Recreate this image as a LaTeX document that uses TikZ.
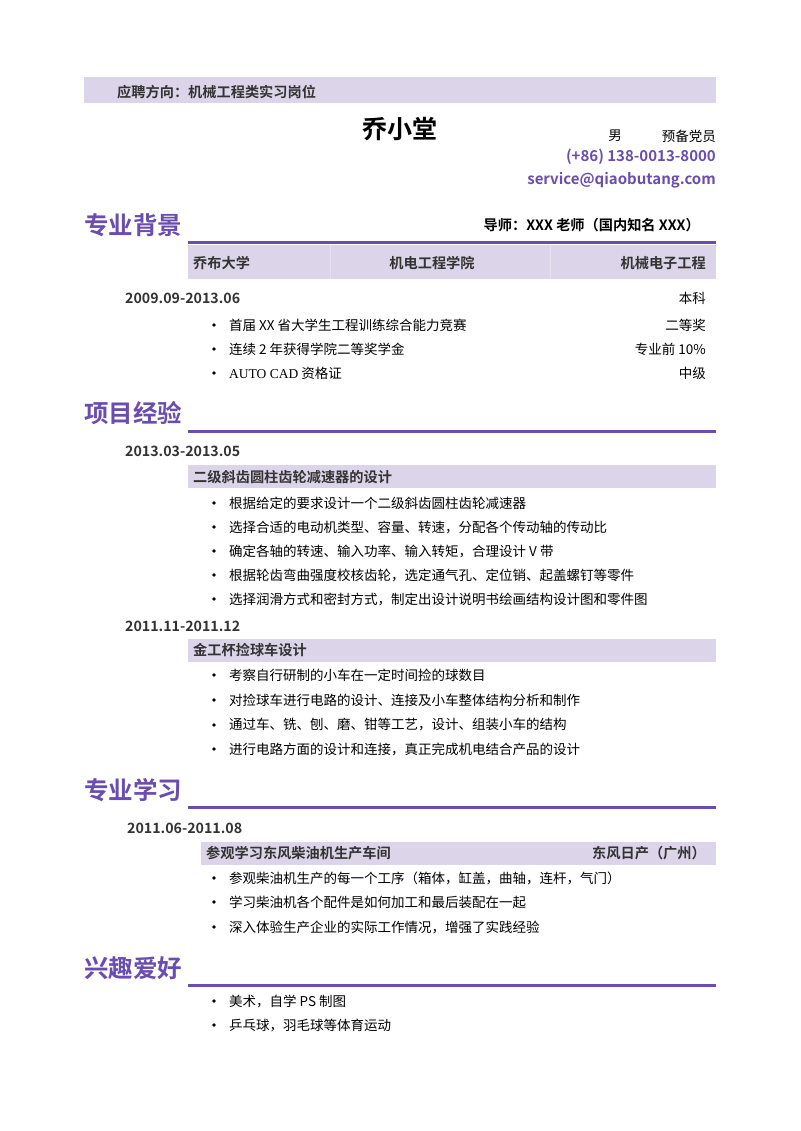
\documentclass[tikz,border=0pt]{standalone}
\usepackage{fontspec}
\setmainfont{Noto Sans CJK SC}
\newfontfamily\cjkb{Noto Sans CJK SC Bold}
\newfontfamily\tms{Liberation Serif}
\definecolor{pur}{HTML}{6A4DAE}
\definecolor{lav}{HTML}{DCD5EA}
\definecolor{dg}{HTML}{333333}
\begin{document}
\begin{tikzpicture}[x=1pt,y=-1pt,
  txt/.style={inner sep=0pt,font=\fontsize{13.5}{13.5}\selectfont,text=black},
  bold/.style={txt,font=\fontsize{14.2}{14.2}\selectfont\cjkb},
  date/.style={bold,text=dg,anchor=west},
  head/.style={inner sep=0pt,anchor=west,text=pur,font=\fontsize{24.5}{24.5}\selectfont\cjkb},
  rule/.style={draw=pur,line width=3pt},
  bar/.style={fill=lav},
  item/.style={txt,anchor=west},
  right/.style={txt,anchor=east},
  dot/.style={circle,fill=black,inner sep=0pt,minimum size=3.6pt}]
\useasboundingbox (0,0) rectangle (800,1131);
\fill[white] (0,0) rectangle (800,1131);
% top
\fill[bar] (84,77) rectangle (716,103);
\node[bold,anchor=west,text=dg] (job) at (117,92) {应聘方向：机械工程类实习岗位};
\node[inner sep=0pt,font=\fontsize{25}{25}\selectfont\cjkb] (name) at (400,129) {乔小堂};
\node[txt] (sex) at (615,136) {男};
\node[right] (party) at (716,136) {预备党员};
\node[bold,anchor=east,text=pur,font=\fontsize{15}{15}\selectfont\cjkb] (tel) at (716,157) {(+86)\ 138-0013-8000};
\node[bold,anchor=east,text=pur,font=\fontsize{15}{15}\selectfont\cjkb] (mail) at (716,180) {service@qiaobutang.com};
% section 1
\node[head] (h1) at (84,225) {专业背景};
\node[bold,anchor=east] (tutor) at (700,225) {导师：XXX 老师（国内知名 XXX）};
\fill[bar] (188,245) rectangle (716,279);
\draw[lav!70!white,line width=0.5pt] (330,245) -- (330,279) (550,245) -- (550,279);
\draw[rule] (188,243) -- (716,243);
\node[bold,anchor=west,text=dg] (u1) at (193,263) {乔布大学};
\node[bold,text=dg] (u2) at (432,263) {机电工程学院};
\node[bold,anchor=east,text=dg] (u3) at (706,263) {机械电子工程};
\node[date] (d1) at (125,298) {2009.09-2013.06};
\node[right] (r0) at (706,298) {本科};
\foreach \y/\t/\r in {325/首届 XX 省大学生工程训练综合能力竞赛/二等奖,349/连续 2 年获得学院二等奖学金/专业前 10\%}{
  \node[dot] at (214,\y) {};
  \node[item] at (229,\y) {\t};
  \node[right] at (706,\y) {\r};}
\node[dot] at (214,373) {};
\node[item] at (229,373) {{\tms AUTO CAD} 资格证};
\node[right] at (706,373) {中级};
% section 2
\node[head] (h2) at (84,413) {项目经验};
\draw[rule] (188,431) -- (716,431);
\node[date] (d2) at (125,451) {2013.03-2013.05};
\fill[bar] (188,465) rectangle (716,488);
\node[bold,anchor=west,text=dg] (p1) at (193,477) {二级斜齿圆柱齿轮减速器的设计};
\foreach \y/\t in {503/根据给定的要求设计一个二级斜齿圆柱齿轮减速器,527/选择合适的电动机类型、容量、转速，分配各个传动轴的传动比,551/确定各轴的转速、输入功率、输入转矩，合理设计 V 带,575/根据轮齿弯曲强度校核齿轮，选定通气孔、定位销、起盖螺钉等零件,599/选择润滑方式和密封方式，制定出设计说明书绘画结构设计图和零件图}{
  \node[dot] at (214,\y) {};
  \node[item] at (229,\y) {\t};}
\node[date] (d3) at (125,626) {2011.11-2011.12};
\fill[bar] (188,639) rectangle (716,662);
\node[bold,anchor=west,text=dg] (p2) at (193,650) {金工杯捡球车设计};
\foreach \y/\t in {675/考察自行研制的小车在一定时间捡的球数目,700/对捡球车进行电路的设计、连接及小车整体结构分析和制作,725/通过车、铣、刨、磨、钳等工艺，设计、组装小车的结构,749/进行电路方面的设计和连接，真正完成机电结合产品的设计}{
  \node[dot] at (214,\y) {};
  \node[item] at (229,\y) {\t};}
% section 3
\node[head] (h3) at (84,790) {专业学习};
\draw[rule] (188,807) -- (716,807);
\node[date] (d4) at (127,828) {2011.06-2011.08};
\fill[bar] (201,842) rectangle (716,865);
\node[bold,anchor=west,text=dg] (s1) at (206,853) {参观学习东风柴油机生产车间};
\node[bold,anchor=east,text=dg] (s2) at (706,853) {东风日产（广州）};
\foreach \y/\t in {878/参观柴油机生产的每一个工序（箱体，缸盖，曲轴，连杆，气门）,902/学习柴油机各个配件是如何加工和最后装配在一起,927/深入体验生产企业的实际工作情况，增强了实践经验}{
  \node[dot] at (214,\y) {};
  \node[item] at (229,\y) {\t};}
% section 4
\node[head] (h4) at (84,968) {兴趣爱好};
\draw[rule] (188,985) -- (716,985);
\foreach \y/\t in {1001/美术，自学 PS 制图,1025/乒乓球，羽毛球等体育运动}{
  \node[dot] at (214,\y) {};
  \node[item] at (229,\y) {\t};}
\end{tikzpicture}
\end{document}
